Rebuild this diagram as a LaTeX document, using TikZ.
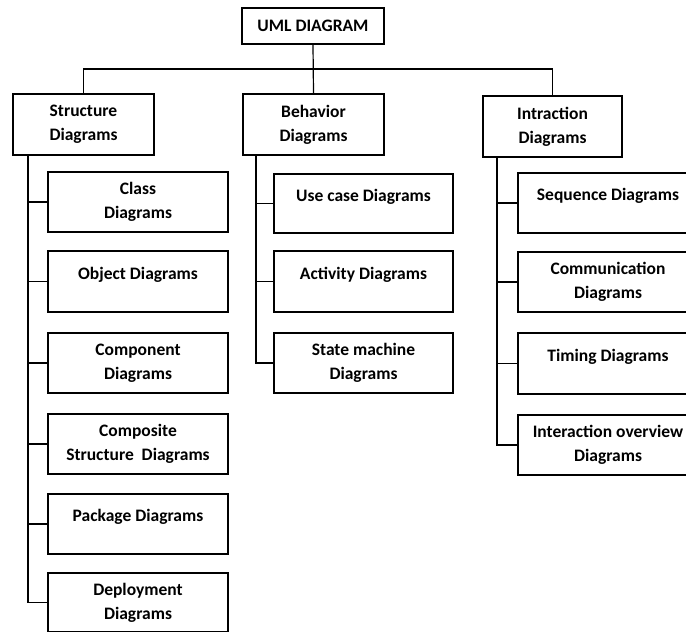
\documentclass[tikz,border=0pt]{standalone}
\usepackage{fontspec}
\setmainfont{Carlito}
\usetikzlibrary{calc}

\begin{document}
\begin{tikzpicture}[x=1pt,y=-1pt,
    box/.style={draw,line width=2pt,fill=white,align=center,
      inner sep=0pt,font=\fontsize{17.5}{24}\selectfont\bfseries},
    single/.style={box,text depth=17pt},
    link/.style={line width=1.2pt}]
  \useasboundingbox (0,0) rectangle (686,632);
  % top level
  \node[box,minimum width=142pt,minimum height=36pt] (uml) at (313,26) {UML DIAGRAM};
  \node[box,minimum width=141pt,minimum height=61pt] (struct) at (83.5,124.5) {Structure\\Diagrams};
  \node[box,minimum width=141pt,minimum height=61pt] (beh) at (313.5,124.5) {Behavior\\Diagrams};
  \node[box,minimum width=139pt,minimum height=61pt] (intr) at (552.5,126.5) {Intraction\\Diagrams};
  \coordinate (bus) at (313,69);
  \draw[link] (uml.south) -- (beh.north);
  \draw[link] (struct.north) |- (bus) -| (intr.north);
  % structure diagrams
  \node[box,minimum width=180pt,minimum height=60pt] (cls) at (138,202) {Class\\Diagrams};
  \node[single,minimum width=180pt,minimum height=61pt] (obj) at (138,281.5) {Object Diagrams};
  \node[box,minimum width=180pt,minimum height=60pt] (cmp) at (138,363) {Component\\Diagrams};
  \node[box,minimum width=180pt,minimum height=60pt] (csd) at (138,444) {Composite\\Structure\ \ Diagrams};
  \node[single,minimum width=180pt,minimum height=60pt] (pkg) at (138,524) {Package Diagrams};
  \node[box,minimum width=180pt,minimum height=59pt] (dep) at (138,602.5) {Deployment\\Diagrams};
  \foreach \n in {cls,obj,cmp,csd,pkg,dep}
    \draw[link] ([xshift=16pt]struct.south west) |- (\n.west);
  % behavior diagrams
  \node[single,minimum width=179pt,minimum height=59pt] (ucd) at (363.5,203.5) {Use case Diagrams};
  \node[single,minimum width=179pt,minimum height=61pt] (act) at (363.5,281.5) {Activity Diagrams};
  \node[box,minimum width=179pt,minimum height=60pt] (stm) at (363.5,363) {State machine\\Diagrams};
  \foreach \n in {ucd,act,stm}
    \draw[link] ([xshift=14pt]beh.south west) |- (\n.west);
  % interaction diagrams
  \node[single,minimum width=180pt,minimum height=60pt] (seq) at (608,203) {Sequence Diagrams};
  \node[box,minimum width=180pt,minimum height=60pt] (com) at (608,282) {Communication\\Diagrams};
  \node[single,minimum width=180pt,minimum height=61pt] (tim) at (608,363.5) {Timing Diagrams};
  \node[box,minimum width=180pt,minimum height=60pt] (iod) at (608,445) {Interaction overview\\Diagrams};
  \foreach \n in {seq,com,tim,iod}
    \draw[link] ([xshift=15pt]intr.south west) |- (\n.west);
\end{tikzpicture}
\end{document}
